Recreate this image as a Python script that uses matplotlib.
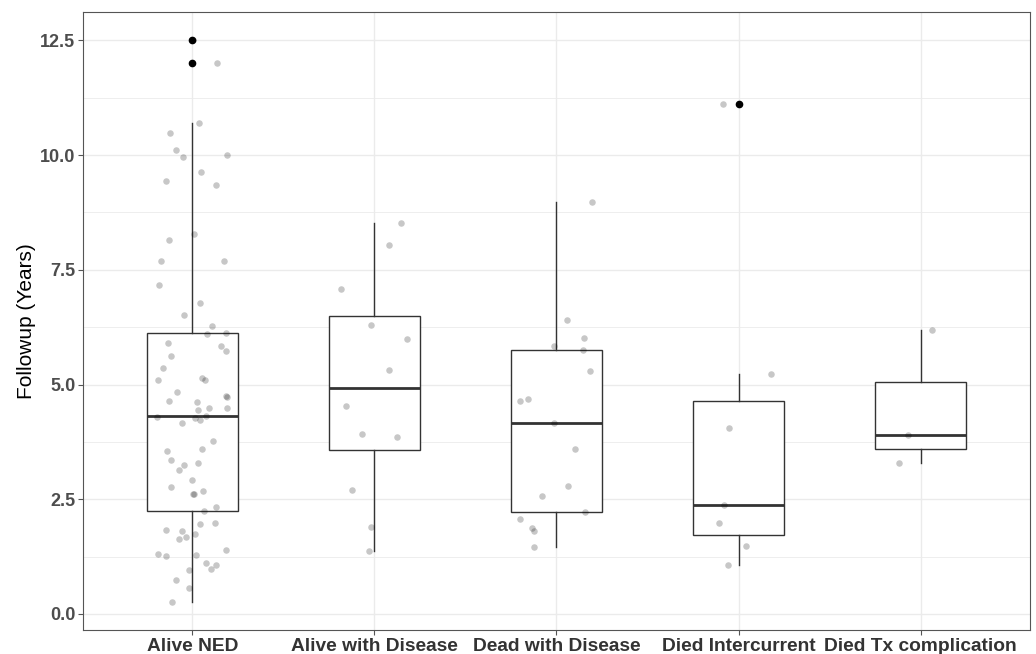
import matplotlib.pyplot as plt
import numpy as np

plt.rcParams['font.family'] = ['Liberation Sans', 'DejaVu Sans']

categories = ['Alive NED', 'Alive with Disease', 'Dead with Disease',
              'Died Intercurrent', 'Died Tx complication']

# followup in years per outcome group
alive_ned = [12.5, 12.0, 10.71, 10.48, 10.12, 9.96, 10.01, 9.64, 9.43, 9.35,
             8.29, 8.16, 7.69, 7.69, 7.17, 6.77, 6.51, 6.27, 6.11, 6.13,
             5.90, 5.84, 5.74, 5.62, 5.35, 5.10, 5.15, 5.10, 4.84, 4.65,
             4.61, 4.74, 4.72, 4.44, 4.49, 4.48, 4.30, 4.26, 4.23, 4.31,
             4.16, 3.76, 3.55, 3.60, 3.36, 3.29, 3.24, 3.13, 2.91, 2.76,
             2.69, 2.62, 2.61, 2.33, 2.24, 1.99, 1.97, 1.83, 1.81, 1.74,
             1.67, 1.63, 1.31, 1.27, 1.29, 1.39, 1.10, 1.06, 0.99, 0.95,
             0.74, 0.57, 0.26]
alive_disease = [8.53, 8.04, 7.09, 6.29, 6.00, 5.31, 4.54, 3.93, 3.86, 2.71, 1.90, 1.38]
dead_disease = [8.97, 6.40, 6.01, 5.85, 5.76, 5.30, 4.64, 4.69, 4.16, 3.59,
                2.79, 2.58, 2.23, 2.08, 1.88, 1.81, 1.45]
died_intercurrent = [11.11, 5.24, 4.05, 2.38, 1.99, 1.47, 1.06]
died_tx = [6.19, 3.91, 3.30]

# horizontal jitter of each point (category units), as seen in the picture
jit_alive_ned = [0.005, 0.137, 0.038, -0.121, -0.088, -0.049, 0.192, 0.049, -0.143, 0.132,
                 0.011, -0.126, -0.170, 0.176, -0.181, 0.044, -0.044, 0.110, 0.082, 0.187,
                 -0.132, 0.159, 0.187, -0.115, -0.159, -0.187, 0.055, 0.071, -0.082, -0.126,
                 0.027, 0.187, 0.192, 0.033, 0.093, 0.192, -0.192, 0.016, 0.044, 0.077,
                 -0.055, 0.115, -0.137, 0.055, -0.115, 0.033, -0.044, -0.071, 0.0, -0.115,
                 0.060, 0.011, 0.005, 0.132, 0.066, 0.126, 0.044, -0.143, -0.055, 0.016,
                 -0.033, -0.071, -0.187, -0.143, 0.022, 0.187, 0.077, 0.132, 0.104, -0.016,
                 -0.088, -0.016, -0.110]
jit_alive_disease = [0.148, 0.082, -0.181, -0.016, 0.181, 0.082, -0.154, -0.066, 0.126, -0.121, -0.016, -0.027]
jit_dead_disease = [0.198, 0.060, 0.154, -0.016, 0.148, 0.187, -0.198, -0.154, -0.016, 0.104,
                    0.066, -0.077, 0.159, -0.198, -0.132, -0.121, -0.121]
jit_died_intercurrent = [-0.088, 0.18, -0.05, -0.08, -0.11, 0.04, -0.06]
jit_died_tx = [0.06, -0.07, -0.12]

groups = [alive_ned, alive_disease, dead_disease, died_intercurrent, died_tx]
jitters = [jit_alive_ned, jit_alive_disease, jit_dead_disease, jit_died_intercurrent, jit_died_tx]

fig = plt.figure(figsize=(10.36, 6.54), dpi=100)
ax = fig.add_axes([0.0801, 0.0367, 0.914, 0.945])

pos = np.arange(1, len(categories) + 1)
edge = '#333333'
ax.boxplot(groups, positions=pos, widths=0.5, whis=1.5, patch_artist=True,
           showcaps=False, zorder=2,
           boxprops=dict(facecolor='white', edgecolor=edge, linewidth=1.0),
           medianprops=dict(color=edge, linewidth=2.0),
           whiskerprops=dict(color=edge, linewidth=1.0),
           flierprops=dict(marker='o', markerfacecolor='black', markeredgecolor='black',
                           markersize=4.5))

for p, vals, jit in zip(pos, groups, jitters):
    ax.scatter(p + np.array(jit), vals, s=22, color='black', alpha=0.22,
               linewidths=0, zorder=3)

ax.set_xlim(0.4, 5.6)
ax.set_ylim(-0.35, 13.12)
ax.set_xticks(pos)
ax.set_xticklabels(categories, fontsize=13.8, fontweight='bold', color='#333333')
ax.set_yticks([0, 2.5, 5.0, 7.5, 10.0, 12.5])
ax.set_yticklabels(['0.0', '2.5', '5.0', '7.5', '10.0', '12.5'],
                   fontsize=13, fontweight='bold', color='#4d4d4d')
ax.set_yticks(np.arange(1.25, 13, 2.5), minor=True)
ax.tick_params(axis='both', which='major', length=3.5, width=0.8, color='#555555', pad=2)
ax.tick_params(axis='y', which='minor', length=0)
ax.grid(True, which='major', color='#ebebeb', linewidth=1.0, zorder=0)
ax.grid(True, which='minor', axis='y', color='#ebebeb', linewidth=0.6, zorder=0)
ax.set_axisbelow(True)
for s in ax.spines.values():
    s.set_color('#555555')
    s.set_linewidth(0.8)

ax.set_ylabel('Followup (Years)', fontsize=15, color='black', labelpad=3)

fig.savefig('out.png', dpi=100)
